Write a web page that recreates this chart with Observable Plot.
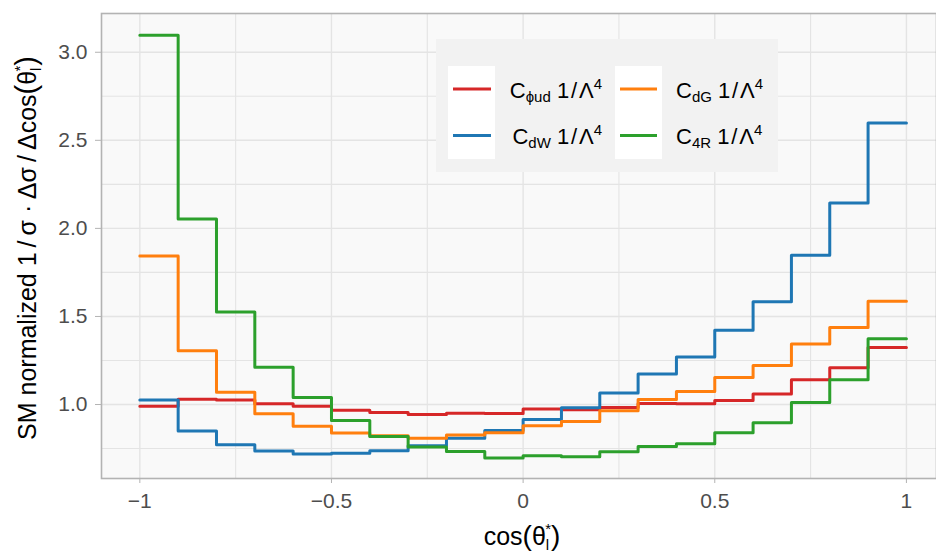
<!DOCTYPE html>
<html>
<head>
<meta charset="utf-8">
<script src="https://cdn.jsdelivr.net/npm/d3@7"></script>
<script src="https://cdn.jsdelivr.net/npm/@observablehq/plot@0.6"></script>
<style>
  html, body { margin: 0; padding: 0; background: #ffffff; }
  #chart { width: 936px; height: 554px; }
</style>
</head>
<body>
<div id="chart"></div>
<script>
// ---- data ----
const binStart = [-1.0, -0.9, -0.8, -0.7, -0.6, -0.5, -0.4, -0.3, -0.2, -0.1,
                   0.0,  0.1,  0.2,  0.3,  0.4,  0.5,  0.6,  0.7,  0.8,  0.9];
const binEnd = 1.0;

const seriesNames = ["Cϕud", "CdW", "CdG", "C4R"];
const seriesSub   = ["ϕud", "dW", "dG", "4R"];
const seriesColors = ["#d62728", "#1f77b4", "#ff7f0e", "#2ca02c"];

const cPhiUd = [0.99, 1.03, 1.025, 1.005, 0.99, 0.967, 0.955, 0.944, 0.951, 0.949,
                0.974, 0.970, 0.983, 1.006, 1.004, 1.023, 1.060, 1.140, 1.209, 1.324];
const cDW    = [1.026, 0.849, 0.772, 0.736, 0.719, 0.723, 0.738, 0.766, 0.808, 0.853,
                0.915, 0.981, 1.066, 1.173, 1.270, 1.422, 1.583, 1.848, 2.144, 2.599];
const cDG    = [1.843, 1.305, 1.070, 0.947, 0.877, 0.838, 0.823, 0.808, 0.827, 0.840,
                0.879, 0.904, 0.964, 1.028, 1.074, 1.153, 1.221, 1.343, 1.437, 1.586];
const c4R    = [3.097, 2.054, 1.526, 1.211, 1.040, 0.909, 0.819, 0.759, 0.734, 0.696,
                0.709, 0.704, 0.732, 0.761, 0.778, 0.840, 0.896, 1.011, 1.140, 1.373];

const xTicks = [-1, -0.5, 0, 0.5, 1];
const xMinor = [-0.75, -0.25, 0.25, 0.75];
const yTicks = [1.0, 1.5, 2.0, 2.5, 3.0];
const yMinor = [0.75, 1.25, 1.75, 2.25, 2.75];

// ---- build table ----
const allValues = [cPhiUd, cDW, cDG, c4R];
const rows = [];
allValues.forEach((vals, k) => {
  vals.forEach((v, i) => rows.push({x: binStart[i], y: v, s: seriesNames[k]}));
  rows.push({x: binEnd, y: vals[vals.length - 1], s: seriesNames[k]});
});

const gridColor = "#e4e4e4";
const chart = Plot.plot({
  width: 936,
  height: 554,
  marginLeft: 101,
  marginRight: 0,
  marginTop: 13,
  marginBottom: 76,
  style: {fontFamily: "'Liberation Sans', Arial, Helvetica, sans-serif", background: "#ffffff"},
  x: {domain: [-1.1, 1.0785]},
  y: {domain: [0.58, 3.22]},
  color: {domain: seriesNames, range: seriesColors},
  marks: [
    Plot.frame({fill: "#f9f9f9"}),
    Plot.ruleX(xMinor, {stroke: gridColor, strokeWidth: 1.1}),
    Plot.ruleY(yMinor, {stroke: gridColor, strokeWidth: 1.1}),
    Plot.ruleX(xTicks, {stroke: gridColor, strokeWidth: 1.4}),
    Plot.ruleY(yTicks, {stroke: gridColor, strokeWidth: 1.4}),
    Plot.line(rows, {x: "x", y: "y", z: "s", stroke: "s", curve: "step-after", strokeWidth: 3}),
    Plot.frame({stroke: "#b3b3b3", strokeWidth: 1.6}),
    Plot.axisX({ticks: xTicks, tickFormat: d3.format(""), tickSize: 5, tickPadding: 10,
                stroke: "#b3b3b3", fill: "#4d4d4d", fontSize: 21, label: null}),
    Plot.axisY({ticks: yTicks, tickFormat: d3.format(".1f"), tickSize: 6, tickPadding: 8,
                stroke: "#b3b3b3", fill: "#4d4d4d", fontSize: 21, label: null})
  ]
});
document.getElementById("chart").appendChild(chart);

// ---- titles and legend ----
const svg = d3.select(chart);
const ff = "'Liberation Sans', Arial, Helvetica, sans-serif";

// x title
const xt = svg.append("text")
  .attr("x", 522).attr("y", 545)
  .attr("text-anchor", "middle")
  .attr("font-family", ff).attr("font-size", 25).attr("fill", "#000");
xt.append("tspan").text("cos");
xt.append("tspan").attr("font-size", 28).text("(");
xt.append("tspan").text("θ");
xt.append("tspan").attr("font-size", 15).attr("dy", 5).text("l");
xt.append("tspan").attr("font-size", 15).attr("dx", -4).attr("dy", -16).text("*");
xt.append("tspan").attr("font-size", 28).attr("dy", 11).text(")");

// y title
const yt = svg.append("text")
  .attr("transform", "translate(35.5,248) rotate(-90)")
  .attr("text-anchor", "middle")
  .attr("font-family", ff).attr("font-size", 25).attr("fill", "#000");
yt.append("tspan").text("SM normalized 1\u2009/\u2009σ · Δσ\u2009/\u2009Δcos");
yt.append("tspan").attr("font-size", 29).text("(");
yt.append("tspan").text("θ");
yt.append("tspan").attr("font-size", 15).attr("dy", 5).text("l");
yt.append("tspan").attr("font-size", 15).attr("dx", -4).attr("dy", -16).text("*");
yt.append("tspan").attr("font-size", 29).attr("dy", 11).text(")");

// legend
const lg = svg.append("g");
lg.append("rect").attr("x", 436).attr("y", 39).attr("width", 342).attr("height", 133).attr("fill", "#f2f2f2");
const cols = [{kx: 448, lx1: 453, lx2: 491, tx: 602, anchor: "end"},
              {kx: 615, lx1: 620, lx2: 657, tx: 676, anchor: "start"}];
const rowsY = [{line: 89, base: 97.5}, {line: 135.5, base: 144}];
cols.forEach(c => lg.append("rect").attr("x", c.kx).attr("y", 66).attr("width", 47).attr("height", 93).attr("fill", "#ffffff"));
seriesNames.forEach((name, k) => {
  const c = cols[Math.floor(k / 2)];
  const r = rowsY[k % 2];
  lg.append("line").attr("x1", c.lx1).attr("x2", c.lx2).attr("y1", r.line).attr("y2", r.line)
    .attr("stroke", seriesColors[k]).attr("stroke-width", 3);
  const t = lg.append("text").attr("x", c.tx).attr("y", r.base)
    .attr("text-anchor", c.anchor).attr("font-family", ff).attr("font-size", 22).attr("fill", "#000");
  t.append("tspan").text("C");
  t.append("tspan").attr("font-size", 15).attr("dy", 4).text(seriesSub[k]);
  t.append("tspan").attr("dy", -4).text(" 1\u200A/\u200AΛ");
  t.append("tspan").attr("font-size", 15).attr("dy", -9).text("4");
});
</script>
</body>
</html>
